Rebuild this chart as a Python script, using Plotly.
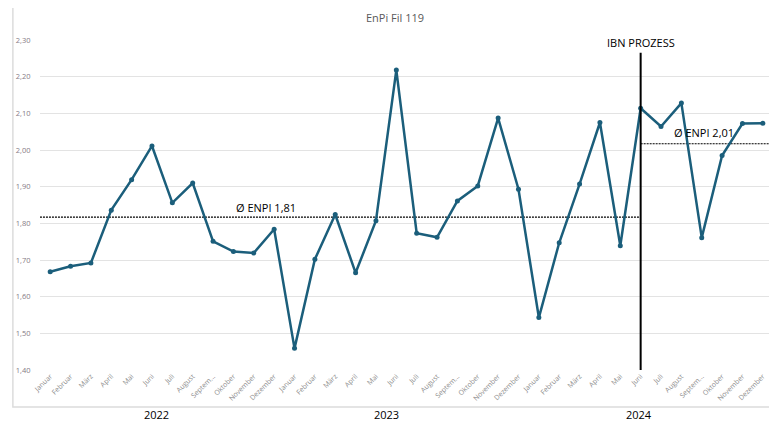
import plotly.graph_objects as go

months = ["Januar", "Februar", "März", "April", "Mai", "Juni", "Juli", "August",
          "Septem...", "Oktober", "November", "Dezember"]
years = ["2022", "2023", "2024"]

values_2022 = [1.668, 1.683, 1.692, 1.836, 1.919, 2.011, 1.856, 1.910, 1.751, 1.723, 1.719, 1.784]
values_2023 = [1.459, 1.702, 1.824, 1.665, 1.807, 2.218, 1.773, 1.762, 1.861, 1.902, 2.087, 1.893]
values_2024 = [1.543, 1.747, 1.907, 2.075, 1.739, 2.114, 2.064, 2.128, 1.761, 1.985, 2.072, 2.073]

avg_before = 1.817
avg_after = 2.017
avg_labels = ["Ø ENPI 1,81", "Ø ENPI 2,01"]
event_label = "IBN PROZESS"
event_index = 29  # Juni 2024
title_text = "EnPi Fil 119"

values = values_2022 + values_2023 + values_2024
labels = months * len(years)
xs = list(range(len(values)))

LINE = "#1b5e7b"
FONT = "Open Sans"

fig = go.Figure()
fig.add_trace(go.Scatter(
    x=xs, y=values, mode="lines+markers",
    line=dict(color=LINE, width=2.5),
    marker=dict(color=LINE, size=5),
    hoverinfo="skip", showlegend=False,
))

shapes = [
    # chart border
    dict(type="rect", xref="paper", yref="paper", x0=-0.037, x1=1.004, y0=-0.112, y1=1.109,
         line=dict(color="#dcdcdc", width=1.5), layer="below"),
    # average before
    dict(type="line", xref="x", yref="y", x0=-0.65, x1=event_index, y0=avg_before, y1=avg_before,
         line=dict(color="black", width=1.2, dash="2px,1px"), layer="below"),
    # average after
    dict(type="line", xref="x", yref="y", x0=event_index, x1=35.5, y0=avg_after, y1=avg_after,
         line=dict(color="black", width=1.2, dash="2px,1px"), layer="below"),
    # event line
    dict(type="line", xref="x", yref="y", x0=event_index, x1=event_index, y0=1.40, y1=2.265,
         line=dict(color="black", width=2)),
]

annotations = [
    dict(text=title_text, xref="paper", yref="paper", x=0.484, y=1.067, showarrow=False,
         yanchor="middle", xanchor="center",
         font=dict(family=FONT, size=11, color="#595959")),
    dict(text=event_label, xref="x", yref="y", x=event_index, y=2.292, showarrow=False,
         yanchor="middle", font=dict(family=FONT, size=11, color="black")),
    dict(text=avg_labels[0], xref="x", yref="y", x=10.6, y=1.843, showarrow=False,
         yanchor="middle", font=dict(family=FONT, size=11, color="black")),
    dict(text=avg_labels[1], xref="x", yref="y", x=32.1, y=2.047, showarrow=False,
         yanchor="middle", font=dict(family=FONT, size=11, color="black")),
]
year_pos = [5.2, 16.5, 28.9]
for yr, px in zip(years, year_pos):
    annotations.append(dict(text=yr, xref="x", yref="paper", x=px, y=-0.136, showarrow=False,
                            yanchor="middle",
                            font=dict(family=FONT, size=11, color="black")))

fig.update_layout(
    width=769, height=415,
    margin=dict(l=32, r=4, t=32, b=53),
    paper_bgcolor="white", plot_bgcolor="white",
    separators=",.",
    shapes=shapes, annotations=annotations,
    font=dict(family=FONT),
    xaxis=dict(
        range=[-0.5, len(values) - 0.5],
        tickmode="array", tickvals=xs, ticktext=labels,
        tickangle=-45, tickfont=dict(size=7, color="#8c8c8c"),
        showgrid=False, zeroline=False, showline=False, ticks="",
    ),
    yaxis=dict(
        range=[1.40, 2.30], dtick=0.1, tick0=1.40, tickformat=".2f",
        tickfont=dict(size=7.5, color="#857a85"),
        gridcolor="#e3e3e3", gridwidth=1, zeroline=False, showline=False,
        ticks="outside", ticklen=7, tickcolor="rgba(0,0,0,0)",
    ),
)

fig.write_html("out.html")
